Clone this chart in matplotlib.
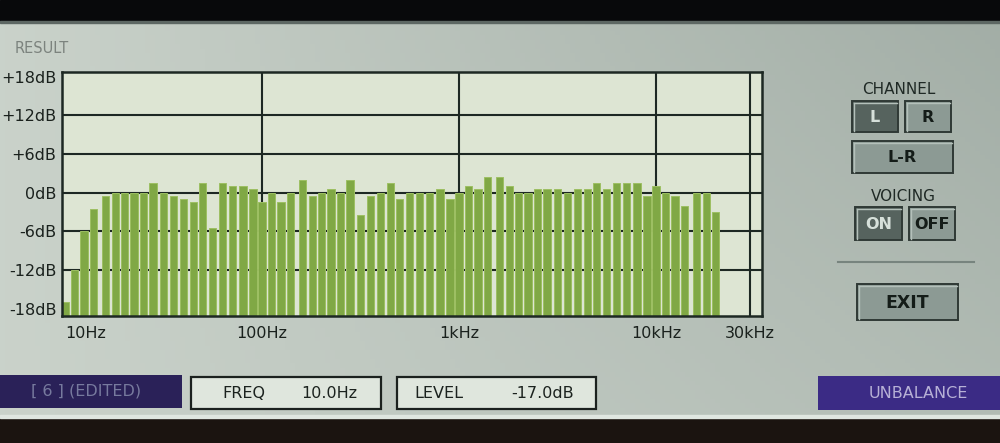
import numpy as np
import matplotlib
matplotlib.use("Agg")
import matplotlib.pyplot as plt
from matplotlib.patches import Rectangle
from matplotlib.colors import LinearSegmentedColormap

# ---------------- data ----------------
freqs_hz = [10, 11.2, 12.5, 14, 16, 18, 20, 22.4, 25, 28, 31.5, 35.5, 40, 45, 50, 56, 63, 71, 80, 90,
            100, 112, 125, 140, 160, 180, 200, 224, 250, 280, 315, 355, 400, 450, 500, 560, 630, 710, 800, 900,
            1000, 1120, 1250, 1400, 1600, 1800, 2000, 2240, 2500, 2800, 3150, 3550, 4000, 4500, 5000, 5600,
            6300, 7100, 8000, 9000, 10000, 11200, 12500, 14000, 16000, 18000, 20000]
levels_db = [-17, -12, -6, -2.5, -0.5, 0, 0, 0, 0, 1.5, 0, -0.5, -1, -1.5, 1.5, -5.5, 1.5, 1, 1, 0.5,
             -1.5, 0, -1.5, 0, 2, -0.5, 0, 0.5, 0, 2, -3.5, -0.5, 0, 1.5, -1, 0, 0, 0, 0.5, -1,
             0, 1, 0.5, 2.5, 2.5, 1, 0, 0, 0.5, 0.5, 0.5, 0, 0.5, 0.5, 1.5, 0.5, 1.5, 1.5, 1.5, -0.5,
             1, 0, -0.5, -2, 0, 0, -3]
y_ticks = [18, 12, 6, 0, -6, -12, -18]
y_tick_labels = ["+18dB", "+12dB", "+6dB", "0dB", "-6dB", "-12dB", "-18dB"]
y_grid = [12, 6, 0, -6, -12]
x_ticks = [10, 100, 1000, 10000, 30000]
x_tick_labels = ["10Hz", "100Hz", "1kHz", "10kHz", "30kHz"]
x_grid = [100, 1000, 10000, 30000]

title_text = "RESULT"
preset_text = "[ 6 ] (EDITED)"
freq_label, freq_value = "FREQ", "10.0Hz"
level_label, level_value = "LEVEL", "-17.0dB"
status_text = "UNBALANCE"

# ---------------- figure ----------------
W, H = 1000, 443
fig = plt.figure(figsize=(W / 100, H / 100), dpi=100)
plt.rcParams['font.family'] = ['DejaVu Sans']

bg = fig.add_axes([0, 0, 1, 1], zorder=0)
bg.set_xlim(0, W)
bg.set_ylim(H, 0)
bg.axis('off')

# screen background with photo-like vignetting
gx = np.linspace(0, 1, 200)[None, :]
gy = np.linspace(0, 1, 100)[:, None]
shade = 0.80 * (1 - gx) + 0.56 * gx
shade = shade + 0.10 * gx * gy
cmap = LinearSegmentedColormap.from_list("scr", ["#7f8d86", "#cdd5cd"])
bg.imshow(shade, cmap=cmap, vmin=0.35, vmax=0.82, extent=[0, W, H, 0], aspect='auto', zorder=0)

# dark bezel top and bottom
bg.add_patch(Rectangle((0, 0), W, 21, color="#08090b", zorder=1))
bg.add_patch(Rectangle((0, 21), W, 2, color="#5d6763", zorder=1))
bg.add_patch(Rectangle((0, 418), W, 25, color="#1b1410", zorder=1))
bg.add_patch(Rectangle((0, 415), W, 3, color="#dfe6e0", zorder=1))

bg.text(15, 48, title_text, fontsize=10.5, color="#7c837e", va='center', ha='left', zorder=2)

# ---------------- chart ----------------
ax_l, ax_r, ax_t, ax_b = 62, 762, 72, 316
ax = fig.add_axes([ax_l / W, 1 - ax_b / H, (ax_r - ax_l) / W, (ax_b - ax_t) / H], zorder=2)
ax.set_facecolor("#dde5d3")
ax.set_xscale('log')
ax.set_xlim(9.655, 34500)
ax.set_ylim(-19.1, 18.7)

for g in y_grid:
    ax.axhline(g, color="#1d2823", lw=1.5, zorder=1)
for g in x_grid:
    ax.axvline(g, color="#1d2823", lw=1.5, zorder=1)

f = np.array(freqs_hz, dtype=float)
half = 2 ** (0.74 / 12)
lefts = f / half
widths = f * half - lefts
ymin = ax.get_ylim()[0]
ax.bar(lefts, np.array(levels_db) - ymin, width=widths, bottom=ymin, align='edge',
       color="#80a845", edgecolor="#9dbf62", linewidth=0.7, zorder=2)

ax.set_yticks(y_ticks)
ax.set_yticklabels(y_tick_labels, fontsize=11.5, color="#1a211d")
ax.set_xticks(x_ticks)
ax.set_xticklabels(x_tick_labels, fontsize=11.5, color="#1a211d")
ax.xaxis.set_minor_locator(matplotlib.ticker.NullLocator())
ax.tick_params(axis='both', length=0)
ax.tick_params(axis='y', pad=4)
ax.tick_params(axis='x', pad=7)
xl = ax.get_xticklabels()
xl[0].set_ha('left')
for s in ax.spines.values():
    s.set_color("#1d2823")
    s.set_linewidth(1.8)

# ---------------- right panel ----------------
def button(x0, y0, x1, y1, label, selected=False, fs=11.5):
    fill = "#56635e" if selected else "#8c9a94"
    tcol = "#d6e0da" if selected else "#141c18"
    bg.add_patch(Rectangle((x0, y0), x1 - x0, y1 - y0, facecolor=fill,
                           edgecolor="#2f3935", lw=1.4, zorder=3))
    bg.plot([x0 + 1.5, x1 - 1.5], [y0 + 1.5, y0 + 1.5], color="#b4c0ba", lw=1, zorder=4)
    bg.plot([x0 + 1.5, x0 + 1.5], [y0 + 1.5, y1 - 1.5], color="#b4c0ba", lw=1, zorder=4)
    bg.text((x0 + x1) / 2, (y0 + y1) / 2 + 0.5, label, fontsize=fs, fontweight='bold',
            color=tcol, ha='center', va='center', zorder=5)

bg.text(899, 89, "CHANNEL", fontsize=11, color="#1f2925", ha='center', va='center', zorder=3)
button(852, 101, 898, 132, "L", selected=True)
button(905, 101, 951, 132, "R")
button(852, 141, 953, 173, "L-R")
bg.text(903, 196, "VOICING", fontsize=11, color="#1f2925", ha='center', va='center', zorder=3)
button(855, 207, 902, 240, "ON", selected=True)
button(909, 207, 955, 240, "OFF")
bg.plot([838, 974], [262, 262], color="#77847e", lw=1.5, zorder=3)
button(857, 284, 958, 320, "EXIT", fs=12.5)

# ---------------- bottom status bar ----------------
bg.add_patch(Rectangle((0, 375), 182, 33, facecolor="#2a2158", edgecolor="none", zorder=3))
bg.text(86, 391.5, preset_text, fontsize=11.5, color="#777a9e", ha='center', va='center', zorder=4)

bg.add_patch(Rectangle((191, 377), 190, 32, facecolor="#dfe6dd", edgecolor="#1b211e", lw=1.6, zorder=3))
bg.text(222, 393, freq_label, fontsize=11.5, color="#1b221e", ha='left', va='center', zorder=4)
bg.text(357, 393, freq_value, fontsize=11.5, color="#1b221e", ha='right', va='center', zorder=4)

bg.add_patch(Rectangle((397, 377), 199, 32, facecolor="#dfe6dd", edgecolor="#1b211e", lw=1.6, zorder=3))
bg.text(414, 393, level_label, fontsize=11.5, color="#1b221e", ha='left', va='center', zorder=4)
bg.text(574, 393, level_value, fontsize=11.5, color="#1b221e", ha='right', va='center', zorder=4)

bg.add_patch(Rectangle((818, 376), 182, 34, facecolor="#3b2b85", edgecolor="none", zorder=3))
bg.text(918, 393, status_text, fontsize=11.5, color="#b7b1d6", ha='center', va='center', zorder=4)

fig.savefig("out.png", dpi=100)
